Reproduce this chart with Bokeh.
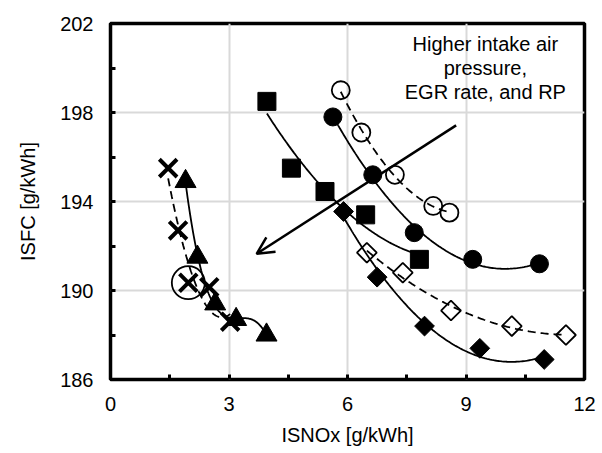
import numpy as np
from bokeh.plotting import figure
from bokeh.models import Range1d, FixedTicker, Arrow, OpenHead
from bokeh.core.properties import value
from bokeh.embed import file_html
from bokeh.resources import INLINE

# ---- data ----
sq_x = [3.96, 4.58, 5.43, 6.46, 7.82]          # filled squares
sq_y = [198.5, 195.5, 194.45, 193.4, 191.4]
fc_x = [5.63, 6.64, 7.69, 9.17, 10.86]         # filled circles
fc_y = [197.8, 195.2, 192.6, 191.4, 191.2]
oc_x = [5.83, 6.35, 7.20, 8.17, 8.58]          # open circles
oc_y = [199.0, 197.1, 195.2, 193.8, 193.5]
fd_x = [5.90, 6.75, 7.95, 9.35, 10.98]         # filled diamonds
fd_y = [193.55, 190.6, 188.4, 187.4, 186.9]
od_x = [6.49, 7.40, 8.62, 10.16, 11.53]        # open diamonds
od_y = [191.7, 190.8, 189.1, 188.4, 188.0]
tr_x = [1.90, 2.20, 2.65, 3.18, 3.95]          # filled triangles
tr_y = [194.9, 191.5, 189.4, 188.7, 188.0]
xm_x = [1.46, 1.71, 1.97, 2.50, 3.03]          # crosses
xm_y = [195.5, 192.7, 190.35, 190.15, 188.6]

x_ticks = [0, 3, 6, 9, 12]
y_ticks = [186, 190, 194, 198, 202]
note_lines = ["Higher intake air", "pressure,", "EGR rate, and RP"]

FONT = "Liberation Sans"

p = figure(width=600, height=452, output_backend="svg", toolbar_location=None,
           x_range=Range1d(0, 12), y_range=Range1d(186, 202),
           min_border_left=110, min_border_right=16, min_border_top=23,
           min_border_bottom=73, background_fill_color="white",
           border_fill_color="white")

p.outline_line_color = "black"
p.outline_line_width = 3.5

p.xaxis.ticker = FixedTicker(ticks=x_ticks, minor_ticks=[1.5, 4.5, 7.5, 10.5])
p.yaxis.ticker = FixedTicker(ticks=y_ticks, minor_ticks=[188, 192, 196, 200])
for ax in (p.xaxis, p.yaxis):
    ax.axis_line_color = None
    ax.major_tick_in = 5
    ax.major_tick_out = 0
    ax.minor_tick_in = 5
    ax.minor_tick_out = 0
    ax.major_tick_line_width = 3
    ax.minor_tick_line_width = 3
    ax.major_tick_line_color = "black"
    ax.minor_tick_line_color = "black"
    ax.major_label_text_font = FONT
    ax.major_label_text_font_size = "20px"
    ax.major_label_text_color = "black"
    ax.axis_label_text_font = FONT
    ax.axis_label_text_font_size = "20px"
    ax.axis_label_text_font_style = "normal"
    ax.axis_label_text_color = "black"

p.xaxis.axis_label = "ISNOx [g/kWh]"
p.yaxis.axis_label = "ISFC [g/kWh]"
p.xaxis.major_label_standoff = 17
p.yaxis.major_label_standoff = 17
p.xaxis.axis_label_standoff = 10
p.yaxis.axis_label_standoff = 18

p.grid.grid_line_color = "#d9d9d9"
p.grid.grid_line_width = 2
p.xgrid.ticker = FixedTicker(ticks=[3, 6, 9])
p.ygrid.ticker = FixedTicker(ticks=[190, 194, 198])


def trend(xs, ys, deg, dash):
    c = np.polyfit(xs, ys, deg)
    xx = np.linspace(min(xs), max(xs), 120)
    p.line(xx, np.polyval(c, xx), line_color="black", line_width=1.8,
           line_dash=dash)


trend(sq_x, sq_y, 2, "solid")
trend(fc_x, fc_y, 2, "solid")
trend(oc_x, oc_y, 2, "8 5")
trend(fd_x, fd_y, 2, "solid")
trend(od_x, od_y, 2, "8 5")
trend(tr_x, tr_y, 3, "solid")
trend(xm_x, xm_y, 2, "8 5")

p.scatter(sq_x, sq_y, marker="square", size=18, color="black")
p.scatter(fc_x, fc_y, marker="circle", size=18, color="black")
p.scatter(oc_x, oc_y, marker="circle", size=18, fill_color=None,
          line_color="black", line_width=1.8)
p.scatter(fd_x, fd_y, marker="square", size=14, angle=np.pi / 4, color="black")
p.scatter(od_x, od_y, marker="square", size=14, angle=np.pi / 4,
          fill_color=None, line_color="black", line_width=1.8)
p.scatter(tr_x, tr_y, marker="triangle", size=21, color="black")
p.scatter(xm_x, xm_y, marker="x", size=25, line_color="black", line_width=4)

# highlighted point
p.scatter([xm_x[2]], [xm_y[2]], marker="circle", size=33, fill_color=None,
          line_color="black", line_width=1.8)

p.add_layout(Arrow(end=OpenHead(size=17, line_width=2.5, line_color="black"),
                   x_start=8.75, y_start=197.42, x_end=3.7, y_end=191.65,
                   line_width=2.5, line_color="black"))

p.text(x=[9.49] * 3, y=[201.1, 200.02, 198.94], text=note_lines,
       text_align="center", text_baseline="middle",
       text_font=value(FONT), text_font_size="20px", text_color="black")

open("out.html", "w").write(file_html(p, INLINE))
